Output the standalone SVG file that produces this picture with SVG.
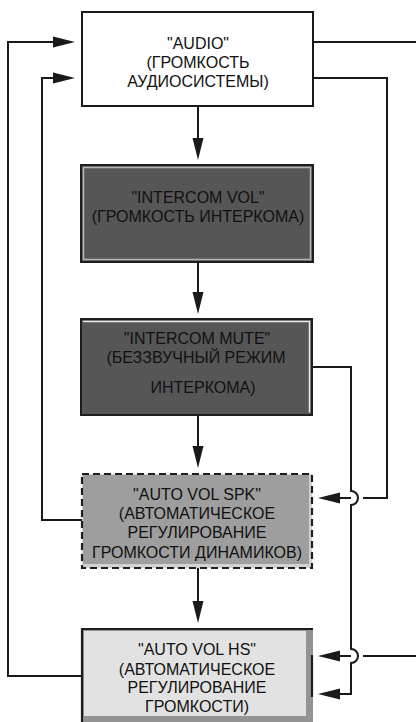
<svg xmlns="http://www.w3.org/2000/svg" width="416" height="722" viewBox="0 0 416 722">
<style>
text{font-family:"Liberation Sans",Arial,sans-serif;font-size:16px;fill:#111;text-anchor:middle}
.ln{fill:none;stroke:#1a1a1a;stroke-width:2}
</style>
<defs>
<marker id="ah" markerUnits="userSpaceOnUse" markerWidth="22" markerHeight="12" viewBox="0 0 22 12" refX="12" refY="6" orient="auto">
<path d="M0,0.5 L22,6 L0,11.5 z" fill="#1a1a1a"/>
</marker>
</defs>
<rect width="416" height="722" fill="#fff"/>
<g id="connectors">
<path class="ln" d="M198 106 V150" marker-end="url(#ah)"/>
<path class="ln" d="M198 262 V304" marker-end="url(#ah)"/>
<path class="ln" d="M198 415 V458" marker-end="url(#ah)"/>
<path class="ln" d="M198 568 V613" marker-end="url(#ah)"/>
<path class="ln" d="M82 676 H8 V42 H65" marker-end="url(#ah)"/>
<path class="ln" d="M82 520 H42 V78 H65" marker-end="url(#ah)"/>
<path class="ln" d="M313 42 H417"/>
<path class="ln" d="M313 78 H387 V498 H363"/>
<path class="ln" d="M351 498 H328" marker-end="url(#ah)"/>
<path class="ln" d="M312 367 H351 V491 A7 7 0 0 1 351 505 V649 A7 7 0 0 1 351 663 V694 H328" marker-end="url(#ah)"/>
<path class="ln" d="M417 656 H363"/>
<path class="ln" d="M351 656 H328" marker-end="url(#ah)"/>
</g>
<g id="audio">
<rect x="82" y="12" width="231" height="94" fill="#fff" stroke="#1a1a1a" stroke-width="2"/>
<text x="198" y="49">"AUDIO"</text>
<text x="198" y="68">(ГРОМКОСТЬ</text>
<text x="198" y="87">АУДИОСИСТЕМЫ)</text>
</g>
<g id="intercom-vol">
<rect x="81" y="165" width="232" height="97" fill="#565656" stroke="#1e1e1e" stroke-width="2"/>
<rect x="83.5" y="167.5" width="227" height="92" fill="none" stroke="#b5b5b5" stroke-width="1.5"/>
<text x="198" y="203">"INTERCOM VOL"</text>
<text x="198" y="222">(ГРОМКОСТЬ ИНТЕРКОМА)</text>
</g>
<g id="intercom-mute">
<rect x="81" y="319" width="231" height="96" fill="#565656" stroke="#1e1e1e" stroke-width="2"/>
<path d="M83 321.5 H309.5 V412.5" fill="none" stroke="#e8e8e8" stroke-width="1.5"/>
<text x="197" y="344">"INTERCOM MUTE"</text>
<text x="196" y="363">(БЕЗЗВУЧНЫЙ РЕЖИМ</text>
<text x="203" y="393">ИНТЕРКОМА)</text>
</g>
<g id="auto-vol-spk">
<rect x="82" y="474" width="230" height="94" fill="#d2d2d2"/>
<rect x="83" y="475" width="226" height="89" fill="#9e9e9e"/>
<rect x="82" y="474" width="230" height="94" fill="none" stroke="#1e1e1e" stroke-width="2.2" stroke-dasharray="7 4"/>
<text x="197" y="500">"AUTO VOL SPK"</text>
<text x="197" y="519">(АВТОМАТИЧЕСКОЕ</text>
<text x="197" y="538">РЕГУЛИРОВАНИЕ</text>
<text x="197" y="558">ГРОМКОСТИ ДИНАМИКОВ)</text>
</g>
<g id="auto-vol-hs">
<rect x="82" y="629" width="231" height="100" fill="#939393"/>
<rect x="84" y="631" width="222" height="85" fill="#e2e2e2"/>
<path d="M82 730 V629 H313" fill="none" stroke="#1e1e1e" stroke-width="2.2"/>
<path d="M312 655 V697" stroke="#1e1e1e" stroke-width="2.2"/>
<text x="197" y="655">"AUTO VOL HS"</text>
<text x="197" y="675">(АВТОМАТИЧЕСКОЕ</text>
<text x="197" y="693">РЕГУЛИРОВАНИЕ</text>
<text x="197" y="712">ГРОМКОСТИ)</text>
</g>
</svg>
